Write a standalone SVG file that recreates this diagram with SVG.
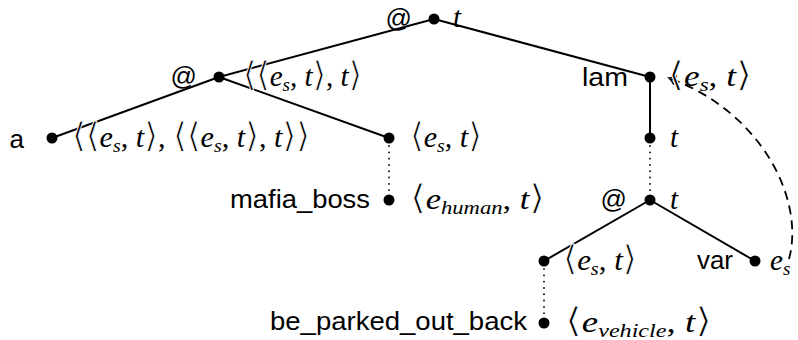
<svg xmlns="http://www.w3.org/2000/svg" width="798" height="340" viewBox="0 0 798 340">
  <defs>
    <style>
      .edge{stroke:#000;stroke-width:2;fill:none;stroke-linecap:round}
      .dots{stroke:#000;stroke-width:1.8;fill:none;stroke-dasharray:0.1 6.2;stroke-linecap:round}
      .bind{stroke:#000;stroke-width:1.8;fill:none;stroke-dasharray:9 6}
      .node circle{fill:#000}
      .lbl{font-family:"Liberation Sans","DejaVu Sans",sans-serif;font-size:26px;fill:#000}
      .math{font-family:"Liberation Serif","DejaVu Serif",serif;font-size:29px;fill:#000}
      .i{font-style:italic}
      /* angle brackets: tall and hairline, trimmed with a thin white outline */
      .br{font-family:"DejaVu Sans",sans-serif;font-size:34px;stroke:#fff;stroke-width:0.9px}
      .sub{font-size:19px;font-style:italic}
    </style>
    <marker id="arrow" viewBox="-10 -6 12 12" refX="0" refY="0" markerWidth="12" markerHeight="12" markerUnits="userSpaceOnUse" orient="auto">
      <path d="M -7 -4.5 Q -2.5 -1 0 0 Q -2.5 1 -7 4.5" fill="none" stroke="#000" stroke-width="1.6" stroke-dasharray="none"/>
    </marker>
  </defs>

  <!-- tree edges: solid for application/abstraction, dotted for lexical typing -->
  <g id="connectors">
    <line class="edge" x1="434" y1="19" x2="219" y2="77"/>
    <line class="edge" x1="434" y1="19" x2="650" y2="77"/>
    <line class="edge" x1="219" y1="77" x2="52" y2="138"/>
    <line class="edge" x1="219" y1="77" x2="389" y2="138"/>
    <line class="dots" x1="389" y1="146" x2="389" y2="194"/>
    <line class="edge" x1="650" y1="77" x2="650" y2="138"/>
    <line class="dots" x1="650" y1="146" x2="650" y2="194"/>
    <line class="edge" x1="650" y1="200" x2="544" y2="261"/>
    <line class="edge" x1="650" y1="200" x2="755" y2="261"/>
    <line class="dots" x1="544" y1="269" x2="544" y2="317"/>
    <!-- variable binding back to the lambda -->
    <path class="bind" d="M 789 259 C 805 200, 762 112, 669 78" marker-end="url(#arrow)"/>
  </g>

  <g id="root" class="node">
    <circle cx="434" cy="19" r="5.5"/>
    <text class="lbl" x="412" y="27" text-anchor="end">@</text>
    <text class="math" x="453" y="27"><tspan class="i">t</tspan></text>
  </g>

  <g id="app-left" class="node">
    <circle cx="219" cy="77" r="5.5"/>
    <text class="lbl" x="197" y="85" text-anchor="end">@</text>
    <text class="math" x="243" y="86" textLength="119" lengthAdjust="spacingAndGlyphs"><tspan class="br">⟨⟨</tspan><tspan class="i">e</tspan><tspan class="sub" dy="5">s</tspan><tspan dy="-5">, </tspan><tspan class="i">t</tspan><tspan class="br">⟩</tspan><tspan>, </tspan><tspan class="i">t</tspan><tspan class="br">⟩</tspan></text>
  </g>

  <g id="det-a" class="node">
    <circle cx="52" cy="138" r="5.5"/>
    <text class="lbl" x="24" y="148" text-anchor="end">a</text>
    <text class="math" x="72" y="147" textLength="238" lengthAdjust="spacingAndGlyphs"><tspan class="br">⟨⟨</tspan><tspan class="i">e</tspan><tspan class="sub" dy="5">s</tspan><tspan dy="-5">, </tspan><tspan class="i">t</tspan><tspan class="br">⟩</tspan><tspan>, </tspan><tspan class="br">⟨⟨</tspan><tspan class="i">e</tspan><tspan class="sub" dy="5">s</tspan><tspan dy="-5">, </tspan><tspan class="i">t</tspan><tspan class="br">⟩</tspan><tspan>, </tspan><tspan class="i">t</tspan><tspan class="br">⟩⟩</tspan></text>
  </g>

  <g id="noun" class="node">
    <circle cx="389" cy="138" r="5.5"/>
    <text class="math" x="410" y="147" textLength="72" lengthAdjust="spacingAndGlyphs"><tspan class="br">⟨</tspan><tspan class="i">e</tspan><tspan class="sub" dy="5">s</tspan><tspan dy="-5">, </tspan><tspan class="i">t</tspan><tspan class="br">⟩</tspan></text>
  </g>

  <g id="mafia-boss" class="node">
    <circle cx="389" cy="200" r="5.5"/>
    <text class="lbl" x="370" y="208" text-anchor="end" textLength="140" lengthAdjust="spacingAndGlyphs">mafia_boss</text>
    <text class="math" x="410" y="209" textLength="135" lengthAdjust="spacingAndGlyphs"><tspan class="br">⟨</tspan><tspan class="i">e</tspan><tspan class="sub" dy="5">human</tspan><tspan dy="-5">, </tspan><tspan class="i">t</tspan><tspan class="br">⟩</tspan></text>
  </g>

  <g id="lam" class="node">
    <circle cx="650" cy="77" r="5.5"/>
    <text class="lbl" x="628" y="86" text-anchor="end" textLength="46" lengthAdjust="spacingAndGlyphs">lam</text>
    <text class="math" x="668" y="86" textLength="84" lengthAdjust="spacingAndGlyphs"><tspan class="br">⟨</tspan><tspan class="i">e</tspan><tspan class="sub" dy="5">s</tspan><tspan dy="-5">, </tspan><tspan class="i">t</tspan><tspan class="br">⟩</tspan></text>
  </g>

  <g id="body" class="node">
    <circle cx="650" cy="138" r="5.5"/>
    <text class="math" x="670" y="147"><tspan class="i">t</tspan></text>
  </g>

  <g id="app-inner" class="node">
    <circle cx="650" cy="200" r="5.5"/>
    <text class="lbl" x="627" y="208" text-anchor="end">@</text>
    <text class="math" x="670" y="209"><tspan class="i">t</tspan></text>
  </g>

  <g id="pred" class="node">
    <circle cx="544" cy="261" r="5.5"/>
    <text class="math" x="563" y="270" textLength="74" lengthAdjust="spacingAndGlyphs"><tspan class="br">⟨</tspan><tspan class="i">e</tspan><tspan class="sub" dy="5">s</tspan><tspan dy="-5">, </tspan><tspan class="i">t</tspan><tspan class="br">⟩</tspan></text>
  </g>

  <g id="var" class="node">
    <circle cx="755" cy="261" r="5.5"/>
    <text class="lbl" x="733" y="269" text-anchor="end" textLength="36" lengthAdjust="spacingAndGlyphs">var</text>
    <text class="math" x="770" y="270"><tspan class="i">e</tspan><tspan class="sub" dy="5">s</tspan></text>
  </g>

  <g id="be-parked" class="node">
    <circle cx="544" cy="323" r="5.5"/>
    <text class="lbl" x="527" y="330" text-anchor="end" textLength="257" lengthAdjust="spacingAndGlyphs">be_parked_out_back</text>
    <text class="math" x="565" y="332" textLength="147" lengthAdjust="spacingAndGlyphs"><tspan class="br">⟨</tspan><tspan class="i">e</tspan><tspan class="sub" dy="5">vehicle</tspan><tspan dy="-5">, </tspan><tspan class="i">t</tspan><tspan class="br">⟩</tspan></text>
  </g>
</svg>
